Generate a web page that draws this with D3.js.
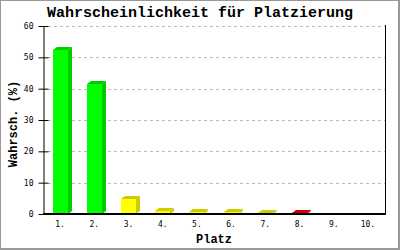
<!DOCTYPE html>
<html><head><meta charset="utf-8">
<script src="https://cdn.jsdelivr.net/npm/d3@7"></script>
<style>html,body{margin:0;padding:0;background:#fff}svg{display:block}</style>
</head><body>
<script>
const categories = ["1.","2.","3.","4.","5.","6.","7.","8.","9.","10."];
const values = [52.4, 41.6, 4.8, 1.0, 0.6, 0.6, 0.3, 0.2, 0, 0];
const frontColors = ["#00ff00","#00ff00","#ffff00","#ffff00","#ffff00","#ffff00","#ffff00","#ff0000","#ff0000","#ff0000"];
const sideColors  = ["#00cc00","#00cc00","#cccc00","#cccc00","#cccc00","#cccc00","#cccc00","#cc0000","#cc0000","#cc0000"];
const yTicks = [0,10,20,30,40,50,60];

const W=400,H=250;
const m={l:43,r:15,t:26,b:36};
const svg=d3.select("body").append("svg").attr("width",W).attr("height",H);
svg.append("rect").attr("x",0).attr("y",0).attr("width",W).attr("height",H).attr("fill","#fff");
// frame
svg.append("rect").attr("x",0.5).attr("y",0.5).attr("width",W-2).attr("height",H-2).attr("fill","none").attr("stroke","#999").attr("stroke-width",1);
svg.append("line").attr("x1",W-0.5).attr("x2",W-0.5).attr("y1",0).attr("y2",H).attr("stroke","#999");
svg.append("line").attr("x1",0).attr("x2",W).attr("y1",H-0.5).attr("y2",H-0.5).attr("stroke","#999");

const x=d3.scaleBand().domain(categories).range([m.l,W-m.r]).paddingInner(0.56).paddingOuter(0.28);
const y=d3.scaleLinear().domain([0,60]).range([H-m.b,m.t]);

// gridlines
svg.append("g").selectAll("line").data(yTicks.filter(d=>d>0)).join("line")
  .attr("x1",m.l+5).attr("x2",W-m.r).attr("y1",d=>Math.round(y(d))+0.5).attr("y2",d=>Math.round(y(d))+0.5)
  .attr("stroke","#bbb").attr("stroke-dasharray","3,3");

// bars (3D)
const dx=4, dy=3;
const g=svg.append("g");
categories.forEach((c,i)=>{
  const v=values[i]; if(v<=0) return;
  const x0=Math.round(x(c)), w=Math.round(x.bandwidth()), y0=Math.round(y(v)), yb=Math.round(y(0));
  g.append("polygon").attr("points",`${x0+w},${y0} ${x0+w+dx},${y0-dy} ${x0+w+dx},${yb-dy} ${x0+w},${yb}`).attr("fill",sideColors[i]);
  g.append("polygon").attr("points",`${x0},${y0} ${x0+dx},${y0-dy} ${x0+w+dx},${y0-dy} ${x0+w},${y0}`).attr("fill",sideColors[i]);
  g.append("rect").attr("x",x0).attr("y",y0).attr("width",w).attr("height",yb-y0).attr("fill",frontColors[i]);
});

// axes
const ya=svg.append("g").attr("transform",`translate(${m.l+0.5},0)`)
  .call(d3.axisLeft(y).tickValues(yTicks).tickSize(5).tickSizeOuter(0).tickPadding(5));
ya.select(".domain").attr("stroke","#000");
ya.selectAll(".tick line").attr("x2",5).attr("x1",-5).attr("stroke","#000");
ya.selectAll("text").attr("font-family","DejaVu Sans Mono").attr("font-size",8).attr("fill","#000");

const xa=svg.append("g").attr("transform",`translate(0,${H-m.b})`)
  .call(d3.axisBottom(x).tickSize(0).tickSizeOuter(0).tickPadding(7));
xa.select(".domain").attr("stroke","#000").attr("stroke-width",2).attr("d",`M${m.l},0H${W-m.r+1}`);
xa.selectAll("text").attr("font-family","DejaVu Sans Mono").attr("font-size",8).attr("fill","#000");

// right border
svg.append("line").attr("x1",W-m.r+0.5).attr("x2",W-m.r+0.5).attr("y1",m.t-1).attr("y2",H-m.b).attr("stroke","#000");

// titles
svg.append("text").attr("x",(m.l+W-m.r)/2-14).attr("y",17).attr("text-anchor","middle")
  .attr("font-family","Liberation Mono").attr("font-weight","bold").attr("font-size",15).text("Wahrscheinlichkeit für Platzierung");
svg.append("text").attr("x",(m.l+W-m.r)/2).attr("y",243).attr("text-anchor","middle")
  .attr("font-family","Liberation Mono").attr("font-weight","bold").attr("font-size",12).text("Platz");
svg.append("text").attr("transform",`translate(17,${(m.t+H-m.b)/2+4}) rotate(-90)`).attr("text-anchor","middle")
  .attr("font-family","Liberation Mono").attr("font-weight","bold").attr("font-size",12).text("Wahrsch. (%)");
</script>
</body></html>
